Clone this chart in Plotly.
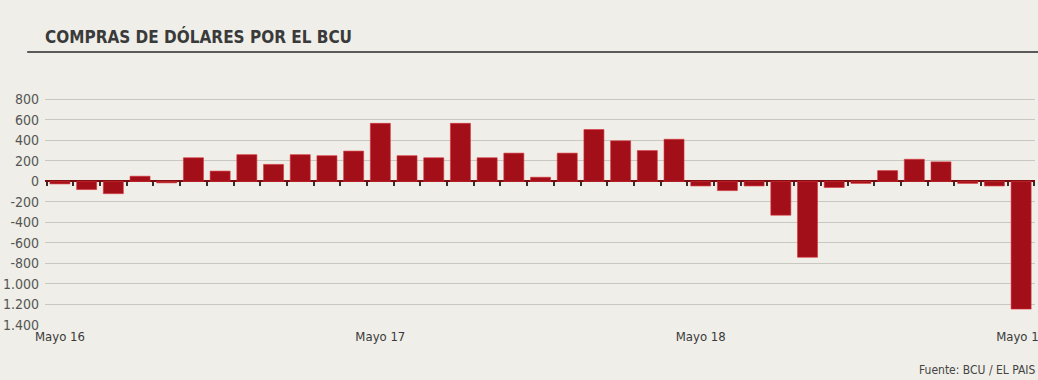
import plotly.graph_objects as go

months = ["2016-05", "2016-06", "2016-07", "2016-08", "2016-09", "2016-10", "2016-11", "2016-12",
          "2017-01", "2017-02", "2017-03", "2017-04", "2017-05", "2017-06", "2017-07", "2017-08",
          "2017-09", "2017-10", "2017-11", "2017-12", "2018-01", "2018-02", "2018-03", "2018-04",
          "2018-05", "2018-06", "2018-07", "2018-08", "2018-09", "2018-10", "2018-11", "2018-12",
          "2019-01", "2019-02", "2019-03", "2019-04", "2019-05"]
compras = [-25, -80, -120, 50, -15, 230, 100, 260, 165, 260, 250, 295, 565, 250, 230, 565,
           230, 275, 40, 275, 505, 395, 300, 410, -45, -90, -45, -330, -740, -60, -20, 105,
           215, 190, -20, -45, -1245]

x_tickvals = ["2016-05", "2017-05", "2018-05", "2019-05"]
x_ticktext = ["Mayo 16", "Mayo 17", "Mayo 18", "Mayo 19"]
y_tickvals = [800, 600, 400, 200, 0, -200, -400, -600, -800, -1000, -1200, -1400]
y_ticktext = ["800", "600", "400", "200", "0", "-200", "-400", "-600", "-800", "1.000", "1.200", "1.400"]

FONT = "Liberation Sans Narrow, DejaVu Sans Condensed, Arial Narrow, sans-serif"
BG = "#efeee8"
Y_MIN, Y_MAX = -1400, 900
X_RANGE = [-0.56, 36.52]
PLOT_H = 380 - 89 - 55

fig = go.Figure()
fig.add_trace(go.Bar(
    x=months, y=compras,
    marker=dict(color="#a30f18", line=dict(color="#d8343a", width=0.6)),
    showlegend=False, hoverinfo="x+y",
))
# invisible helper trace so the boundary-tick axis on the zero line is drawn
fig.add_trace(go.Scatter(
    x=months, y=compras, xaxis="x2", mode="markers",
    marker=dict(opacity=0), showlegend=False, hoverinfo="skip",
))

fig.update_layout(
    width=1038, height=380,
    margin=dict(l=45, r=3, t=89, b=55, autoexpand=False),
    paper_bgcolor=BG, plot_bgcolor=BG,
    bargap=0.25,
    font=dict(family=FONT, color="#444444"),
    xaxis=dict(
        type="category",
        range=X_RANGE, automargin=False,
        tickmode="array", tickvals=x_tickvals, ticktext=x_ticktext,
        tickfont=dict(size=13, color="#3a3a3a"),
        showgrid=False, zeroline=False, showline=False, ticks="",
        ticklabelstandoff=2,
    ),
    xaxis2=dict(
        type="category", overlaying="x", matches="x", automargin=False,
        anchor="free", position=(0 - Y_MIN) / (Y_MAX - Y_MIN),
        tickmode="linear", dtick=1, tickson="boundaries",
        ticks="outside", ticklen=4, tickwidth=2, tickcolor="#3a2a2a",
        showticklabels=False, showgrid=False, zeroline=False, showline=False,
    ),
    yaxis=dict(
        range=[Y_MIN, Y_MAX], automargin=False,
        tickmode="array", tickvals=y_tickvals, ticktext=y_ticktext,
        tickfont=dict(size=14, color="#555555"),
        showgrid=True, gridcolor="#c9c8c0", gridwidth=1,
        zeroline=True, zerolinecolor="#7a0c10", zerolinewidth=2,
        showline=False, ticks="", ticklabelstandoff=5,
    ),
    shapes=[dict(type="line", xref="paper", yref="paper", x0=-0.018, x1=1.01,
                 y0=(380 - 55 - 52) / PLOT_H, y1=(380 - 55 - 52) / PLOT_H,
                 line=dict(color="#5a5a5a", width=2))],
    annotations=[
        dict(text="<b>COMPRAS DE DÓLARES POR EL BCU</b>", xref="paper", yref="paper",
             x=-0.002, y=(380 - 55 - 37) / PLOT_H, xanchor="left", yanchor="middle",
             showarrow=False, font=dict(size=17, color="#3a3a3a", family=FONT)),
        dict(text="Fuente: BCU / EL PAIS", xref="paper", yref="paper",
             x=1.003, y=(380 - 55 - 370) / PLOT_H, xanchor="right", yanchor="middle",
             showarrow=False, font=dict(size=12, color="#444444", family=FONT)),
    ],
)

fig.write_html("out.html")
